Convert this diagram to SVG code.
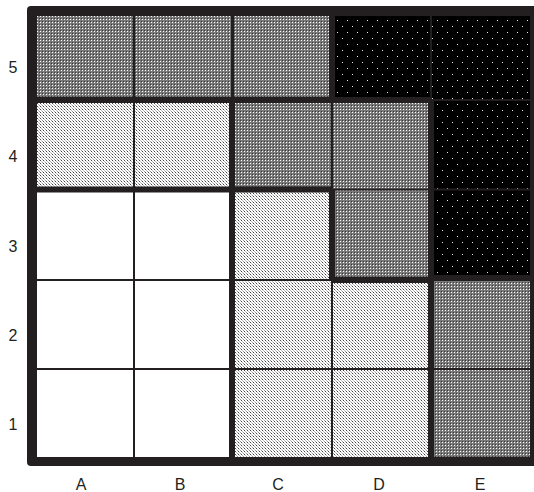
<svg xmlns="http://www.w3.org/2000/svg" width="534" height="492" viewBox="0 0 534 492">
<style>
.lbl{font-family:"Liberation Sans",Arial,sans-serif;font-size:16px;fill:#231f20;text-anchor:middle}
.mid{fill:url(#pMid)}
.lit{fill:url(#pLit)}
.blk{fill:url(#pBlk)}
.wht{fill:#ffffff}
</style>
<defs>
<pattern id="pMid" width="3" height="3" patternUnits="userSpaceOnUse">
<rect width="3" height="3" fill="#7a7a7a"/>
<rect x="1" y="1" width="1" height="1" fill="#ffffff"/>
<rect x="0" y="0" width="1" height="1" fill="#3a3a3a"/>
</pattern>
<pattern id="pLit" width="3" height="3" patternUnits="userSpaceOnUse">
<rect width="3" height="3" fill="#ffffff"/>
<rect x="1" y="1" width="1" height="1" fill="#444444"/>
<rect x="0" y="0" width="1" height="1" fill="#999999"/>
<rect x="2" y="2" width="1" height="1" fill="#bbbbbb"/>
</pattern>
<pattern id="pBlk" width="10" height="12" patternUnits="userSpaceOnUse">
<rect width="10" height="12" fill="#000000"/>
<rect x="2" y="2" width="1" height="1" fill="#eeeeee"/>
<rect x="7" y="8" width="1" height="1" fill="#eeeeee"/>
</pattern>
</defs>
<g id="frame">
<rect x="27" y="6" width="520" height="460" rx="4" fill="#231f20"/>
</g>
<g id="row5">
<rect id="A5" class="mid" x="37" y="16" width="96" height="81"/>
<rect id="B5" class="mid" x="135" y="16" width="96" height="81"/>
<rect id="C5" class="mid" x="234" y="16" width="95" height="81"/>
<rect id="D5" class="blk" x="335" y="16" width="95" height="81"/>
<rect id="E5" class="blk" x="432" y="16" width="98" height="83"/>
</g>
<g id="row4">
<rect id="A4" class="lit" x="37" y="103" width="96" height="83.5"/>
<rect id="B4" class="lit" x="135" y="103" width="94" height="83.5"/>
<rect id="C4" class="mid" x="235" y="103" width="96" height="83.5"/>
<rect id="D4" class="mid" x="333" y="103" width="95" height="85.5"/>
<rect id="E4" class="blk" x="434" y="101" width="96" height="87.5"/>
</g>
<g id="row3">
<rect id="A3" class="wht" x="37" y="192.5" width="96" height="86.5"/>
<rect id="B3" class="wht" x="135" y="192.5" width="94" height="86.5"/>
<rect id="C3" class="lit" x="235" y="192.5" width="94" height="86.5"/>
<rect id="D3" class="mid" x="335" y="190.5" width="93" height="86.5"/>
<rect id="E3" class="blk" x="434" y="190.5" width="96" height="84.5"/>
</g>
<g id="row2">
<rect id="A2" class="wht" x="37" y="281" width="96" height="87"/>
<rect id="B2" class="wht" x="135" y="281" width="94" height="87"/>
<rect id="C2" class="lit" x="235" y="281" width="96" height="87"/>
<rect id="D2" class="lit" x="333" y="283" width="95" height="85"/>
<rect id="E2" class="mid" x="434" y="281" width="96" height="87"/>
</g>
<g id="row1">
<rect id="A1" class="wht" x="37" y="370" width="96" height="87"/>
<rect id="B1" class="wht" x="135" y="370" width="94" height="87"/>
<rect id="C1" class="lit" x="235" y="370" width="96" height="87"/>
<rect id="D1" class="lit" x="333" y="370" width="95" height="87"/>
<rect id="E1" class="mid" x="434" y="370" width="96" height="87"/>
</g>
<g id="rowLabels">
<text class="lbl" x="13" y="73">5</text>
<text class="lbl" x="13" y="162">4</text>
<text class="lbl" x="13" y="252">3</text>
<text class="lbl" x="13" y="341">2</text>
<text class="lbl" x="13" y="430">1</text>
</g>
<g id="colLabels">
<text class="lbl" x="81" y="490">A</text>
<text class="lbl" x="180" y="490">B</text>
<text class="lbl" x="278" y="490">C</text>
<text class="lbl" x="379" y="490">D</text>
<text class="lbl" x="480" y="490">E</text>
</g>
</svg>
